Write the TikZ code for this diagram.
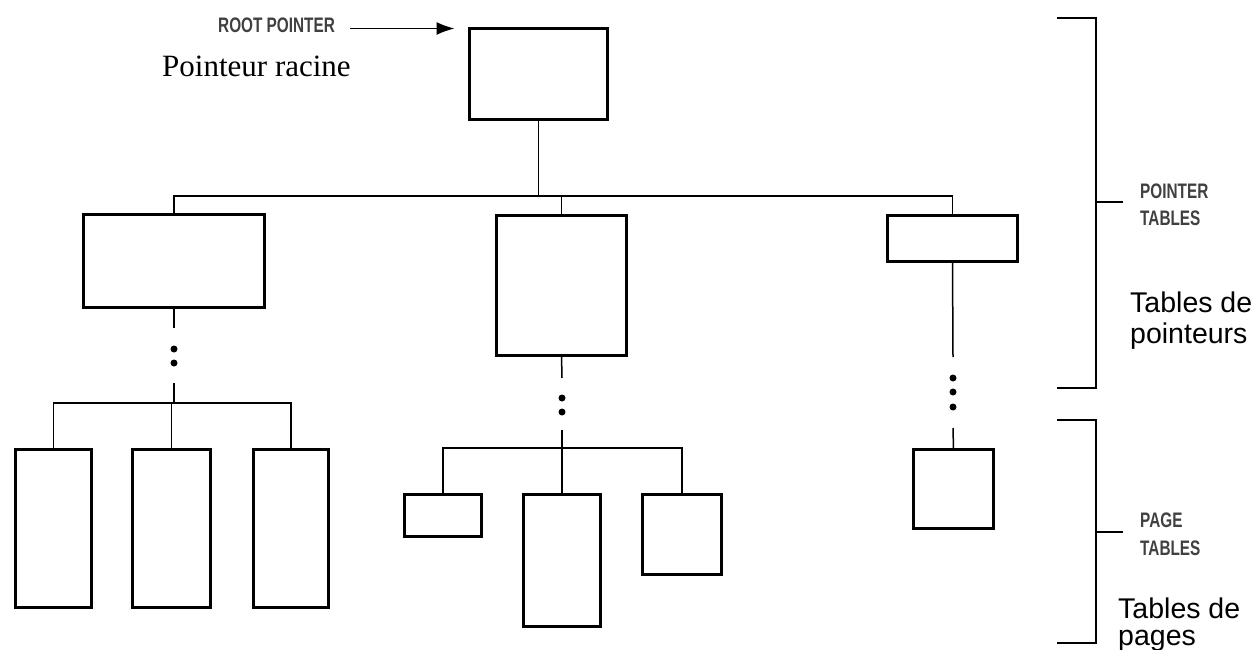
\documentclass[tikz,border=0pt]{standalone}
\usepackage{fontspec}
\setmainfont{Liberation Serif}
\newfontfamily\labelsans{Liberation Sans}
\usetikzlibrary{arrows.meta}
\newcommand\narrowcaps[1]{\scalebox{0.73}[1]{#1}}
\begin{document}
\begin{tikzpicture}[x=1pt,y=-1pt,
  tbl/.style={draw, line width=3pt, inner sep=0pt, outer sep=0pt},
  link/.style={line width=1.5pt},
  dotmark/.style={circle, fill, inner sep=0pt, minimum size=7pt},
  bracketline/.style={line width=2pt},
  caps/.style={font=\labelsans\bfseries\fontsize{21}{24}\selectfont, text=black!75, anchor=base west, inner sep=0pt},
  frtext/.style={font=\labelsans\fontsize{28.5}{32}\selectfont, anchor=base west, inner sep=0pt},
  rmtext/.style={font=\fontsize{31}{36}\selectfont, anchor=base west, inner sep=0pt}]
\useasboundingbox (0,0) rectangle (1260,650);

% root pointer table
\node[tbl, minimum width=138pt, minimum height=91pt] (root) at (538.5,74) {};

% second-level pointer tables
\node[tbl, minimum width=181pt, minimum height=93pt]  (pl) at (174,261) {};
\node[tbl, minimum width=130pt, minimum height=140pt] (pm) at (561.5,285.5) {};
\node[tbl, minimum width=130pt, minimum height=46pt]  (pr) at (952.5,238.5) {};

% page tables
\node[tbl, minimum width=76pt, minimum height=158pt] (l1) at (53.5,528.5) {};
\node[tbl, minimum width=78pt, minimum height=158pt] (l2) at (171.5,528.5) {};
\node[tbl, minimum width=75pt, minimum height=158pt] (l3) at (291,528.5) {};
\node[tbl, minimum width=77pt, minimum height=42pt]  (m1) at (443,515.5) {};
\node[tbl, minimum width=77pt, minimum height=132pt] (m2) at (562,560.5) {};
\node[tbl, minimum width=79pt, minimum height=80pt]  (m3) at (682,534.5) {};
\node[tbl, minimum width=80pt, minimum height=79pt]  (r1) at (953.5,489) {};

% bus lines
\coordinate (bus0) at (0,196);
\coordinate (busl) at (0,403);
\coordinate (busm) at (0,448);

\draw[link] (root.south) -- (root.south |- bus0);
\draw[link] (pl.north) -- (pl.north |- bus0) -- (pr.north |- bus0) -- (pr.north);
\draw[link] (pm.north) -- (pm.north |- bus0);

% left branch
\coordinate (la) at (174,328);
\coordinate (lb) at (174,383);
\node[dotmark] (ld1) at (174,349) {};
\node[dotmark] (ld2) at (174,363) {};
\draw[link] (pl.south) -- (la);
\draw[link] (lb) -- (lb |- busl);
\draw[link] (l1.north) -- (l1.north |- busl) -- (l3.north |- busl) -- (l3.north);
\draw[link] (l2.north) -- (l2.north |- busl);

% middle branch
\coordinate (ma) at (562,378);
\coordinate (mb) at (562,430);
\node[dotmark] (md1) at (562,398) {};
\node[dotmark] (md2) at (562,412) {};
\draw[link] (pm.south) -- (ma);
\draw[link] (mb) -- (mb |- busm);
\draw[link] (m1.north) -- (m1.north |- busm) -- (m3.north |- busm) -- (m3.north);
\draw[link] (m2.north) -- (m2.north |- busm);

% right branch
\coordinate (ra) at (953,357);
\coordinate (rb) at (953,428);
\node[dotmark] (rd1) at (953,378) {};
\node[dotmark] (rd2) at (953,392) {};
\node[dotmark] (rd3) at (953,407) {};
\draw[link] (pr.south) -- (ra);
\draw[link] (rb) -- (r1.north);

% root pointer label and arrow
\node[caps] (rootlbl) at (218,33) {\narrowcaps{ROOT POINTER}};
\node[rmtext] (rootfr) at (162,77) {Pointeur racine};
\draw[link, -{Latex[length=18pt,width=13pt]}] ([xshift=15pt]rootlbl.east |- root.north west) -- ([xshift=-15pt]root.north west);

% brackets
\coordinate (pt1) at (1057,18);
\coordinate (pt2) at (1096,18);
\coordinate (pt3) at (1096,388);
\coordinate (pt4) at (1057,388);
\coordinate (ptm) at (1096,202);
\coordinate (ptt) at (1123,202);
\draw[bracketline] (pt1) -- (pt2) -- (pt3) -- (pt4);
\draw[bracketline] (ptm) -- (ptt);

\coordinate (pg1) at (1057,420);
\coordinate (pg2) at (1096,420);
\coordinate (pg3) at (1096,643);
\coordinate (pg4) at (1057,643);
\coordinate (pgm) at (1096,532);
\coordinate (pgt) at (1123,532);
\draw[bracketline] (pg1) -- (pg2) -- (pg3) -- (pg4);
\draw[bracketline] (pgm) -- (pgt);

% bracket labels
\node[caps] (ptl1) at (1140,198) {\narrowcaps{POINTER}};
\node[caps] (ptl2) at (1140,225) {\narrowcaps{TABLES}};
\node[frtext] (ptf1) at (1130,312) {Tables de};
\node[frtext] (ptf2) at (1130,343) {pointeurs};

\node[caps] (pgl1) at (1140,527) {\narrowcaps{PAGE}};
\node[caps] (pgl2) at (1140,555) {\narrowcaps{TABLES}};
\node[frtext] (pgf1) at (1118,618) {Tables de};
\node[frtext] (pgf2) at (1118,645) {pages};
\end{tikzpicture}
\end{document}
